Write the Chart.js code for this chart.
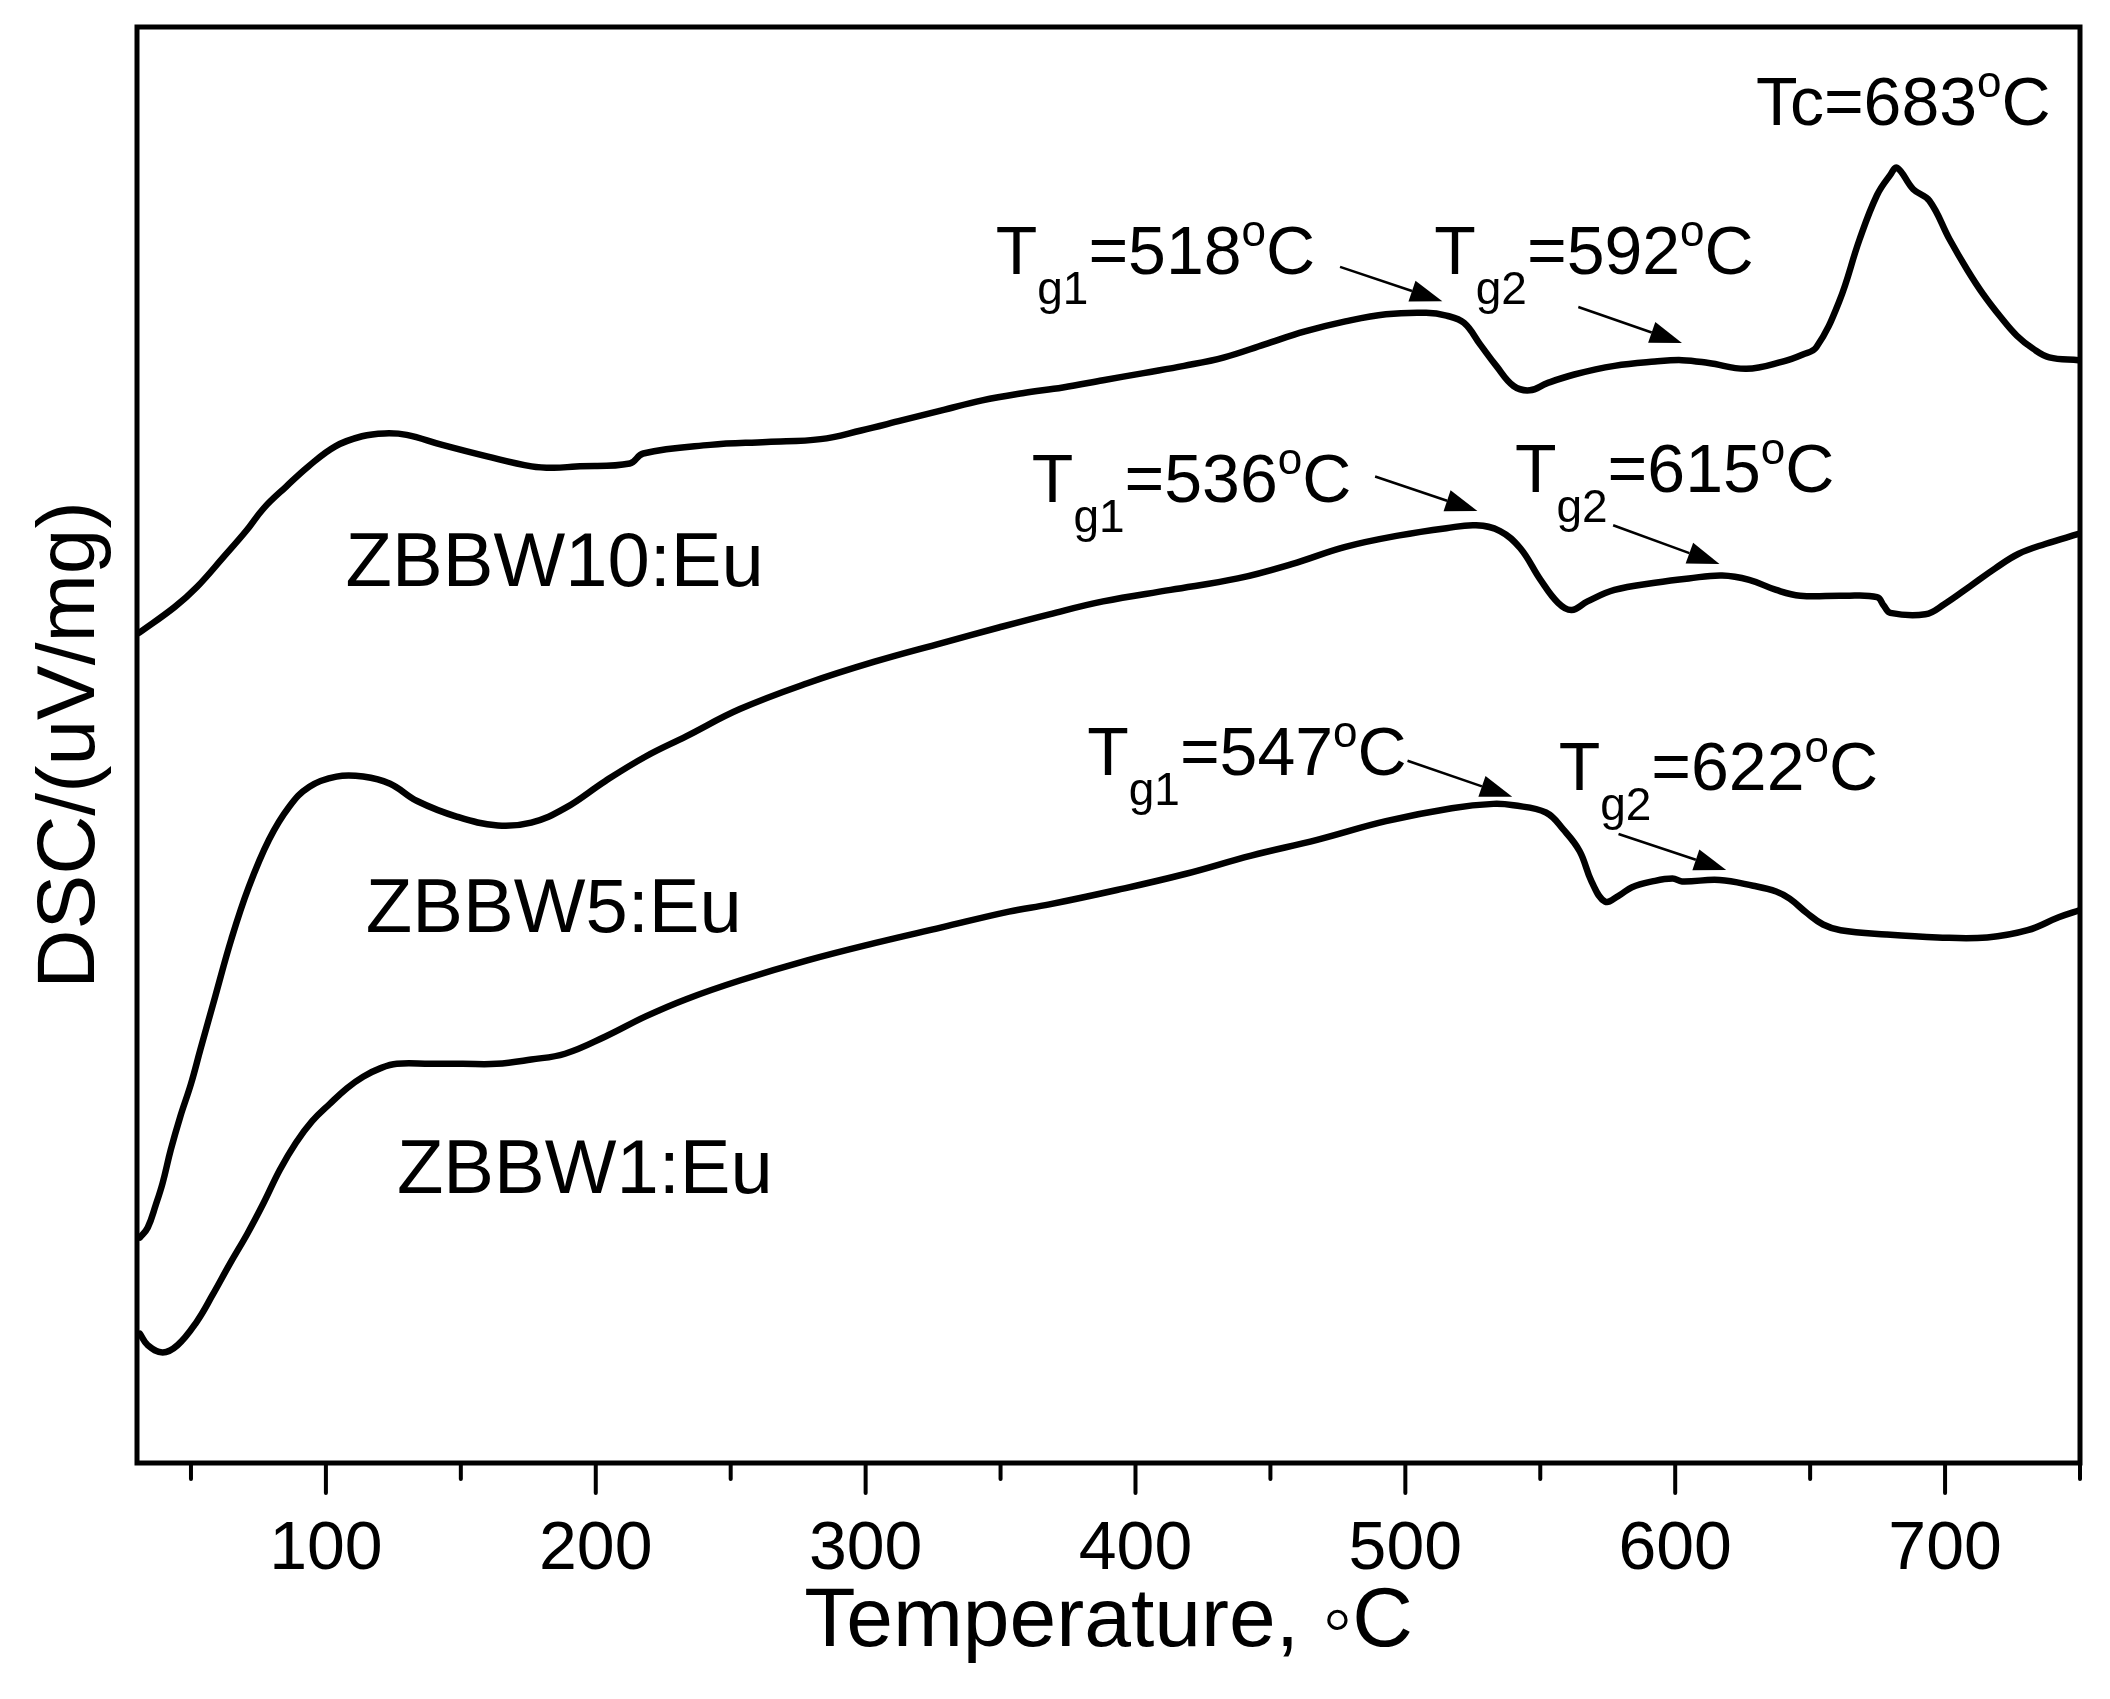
<!DOCTYPE html>
<html>
<head>
<meta charset="utf-8">
<title>DSC curves</title>
<script src="https://cdn.jsdelivr.net/npm/chart.js@4.4.1/dist/chart.umd.min.js"></script>
<style>
  html, body { margin: 0; padding: 0; background: #fff; }
  canvas { display: block; }
</style>
</head>
<body>
<canvas id="dscChart" width="2110" height="1699"></canvas>
<script>
// temperature (°C) and DSC signal (arbitrary units, 0-100 of the plot height)
const tempZBBW10 = [30.7, 43.9, 52.2, 62.1, 70.4, 77.0, 85.3, 93.5, 103.5, 113.4, 121.7, 129.9, 143.1, 159.7, 176.2, 184.5, 192.7, 212.6, 217.6, 242.4, 263.4, 283.3, 298.3, 313.3, 328.2, 343.2, 358.1, 373.1, 388.0, 403.0, 418.0, 432.9, 447.9, 462.8, 477.8, 492.8, 507.7, 515.2, 521.7, 527.7, 533.7, 540.1, 546.1, 552.6, 562.6, 577.5, 592.5, 602.5, 612.4, 626.4, 639.8, 647.3, 652.3, 660.8, 668.3, 674.8, 679.7, 682.2, 688.2, 694.2, 701.7, 708.2, 714.1, 720.6, 726.6, 732.6, 738.6, 749.5];
const dscZBBW10 = [57.8, 59.6, 61.0, 63.1, 64.9, 66.5, 68.0, 69.4, 70.8, 71.5, 71.7, 71.6, 70.9, 70.1, 69.4, 69.3, 69.4, 69.6, 70.3, 70.9, 71.1, 71.3, 71.9, 72.6, 73.3, 74.0, 74.5, 74.9, 75.4, 75.9, 76.4, 77.0, 77.9, 78.8, 79.5, 80.0, 80.1, 79.9, 79.4, 77.9, 76.4, 75.0, 74.7, 75.2, 75.8, 76.4, 76.7, 76.8, 76.6, 76.2, 76.7, 77.2, 77.7, 80.9, 85.2, 88.3, 89.7, 90.2, 88.7, 87.9, 85.2, 83.1, 81.4, 79.8, 78.5, 77.6, 77.0, 76.8];

const tempZBBW5 = [31.1, 34.0, 37.0, 39.5, 42.5, 46.0, 50.0, 53.5, 59.0, 65.0, 71.4, 78.9, 86.4, 93.9, 103.9, 113.8, 123.8, 133.8, 148.7, 163.7, 176.1, 188.6, 203.6, 218.5, 233.5, 253.4, 278.4, 303.3, 328.2, 349.7, 368.1, 388.0, 413.0, 437.9, 457.9, 477.8, 497.8, 515.2, 526.2, 535.1, 542.6, 550.1, 556.6, 561.6, 567.5, 577.5, 592.5, 605.0, 617.4, 627.4, 637.4, 646.3, 662.3, 674.8, 677.3, 679.7, 692.7, 699.7, 709.6, 718.6, 727.1, 737.1, 749.5];
const dscZBBW5 = [15.7, 16.4, 18.0, 19.5, 21.8, 24.1, 26.4, 28.8, 32.5, 36.5, 40.1, 43.4, 45.7, 47.1, 47.8, 47.8, 47.3, 46.1, 45.0, 44.4, 44.6, 45.6, 47.5, 49.2, 50.6, 52.5, 54.3, 55.8, 57.1, 58.2, 59.1, 60.0, 60.8, 61.6, 62.6, 63.8, 64.6, 65.1, 65.3, 64.9, 63.7, 61.5, 59.9, 59.4, 60.0, 60.8, 61.3, 61.6, 61.8, 61.5, 60.8, 60.4, 60.4, 60.3, 59.7, 59.2, 59.1, 59.8, 61.1, 62.3, 63.3, 64.0, 64.7];

const tempZBBW1 = [31.1, 34.0, 39.5, 45.0, 52.0, 58.0, 64.5, 71.0, 76.9, 82.9, 88.9, 94.9, 101.4, 107.8, 113.8, 120.3, 126.3, 138.7, 150.7, 163.2, 176.1, 188.6, 203.6, 218.5, 233.5, 253.4, 278.4, 303.3, 328.2, 353.1, 368.1, 393.1, 418.0, 442.9, 467.3, 492.8, 517.2, 532.6, 540.1, 552.1, 558.6, 564.6, 569.0, 574.0, 579.0, 584.0, 591.5, 599.0, 602.5, 616.4, 628.9, 637.4, 642.4, 648.8, 654.8, 661.3, 678.2, 697.2, 715.6, 730.6, 742.1, 750.0];
const dscZBBW1 = [9.0, 8.2, 7.7, 8.2, 9.8, 11.7, 13.9, 16.0, 18.1, 20.4, 22.3, 23.8, 25.0, 26.1, 26.9, 27.5, 27.8, 27.8, 27.8, 27.8, 28.1, 28.5, 29.7, 31.1, 32.3, 33.6, 35.0, 36.2, 37.3, 38.4, 38.9, 39.9, 41.0, 42.3, 43.4, 44.7, 45.6, 45.9, 45.8, 45.3, 44.1, 42.6, 40.5, 39.1, 39.5, 40.1, 40.5, 40.7, 40.5, 40.6, 40.2, 39.8, 39.3, 38.3, 37.5, 37.1, 36.8, 36.6, 36.6, 37.1, 38.0, 38.5];

const xMajorTicks = [100, 200, 300, 400, 500, 600, 700];
const xMinorTicks = [50, 150, 250, 350, 450, 550, 650, 750];

// sample names: [text, temperature, signal] (left edge, baseline)
const sampleLabels = [
  ["ZBBW10:Eu", 107.3, 61.1],
  ["ZBBW5:Eu", 114.8, 37.0],
  ["ZBBW1:Eu", 126.3, 18.8]
];

// transition labels: main text, subscript, value, at [temperature, signal]
const transitionLabels = [
  ["Tc", "", "=683", 629.9, 93.2],
  ["T", "g1", "=518", 348.2, 82.8],
  ["T", "g2", "=592", 510.7, 82.8],
  ["T", "g1", "=536", 361.6, 66.9],
  ["T", "g2", "=615", 540.6, 67.6],
  ["T", "g1", "=547", 382.1, 47.9],
  ["T", "g2", "=622", 556.8, 46.9]
];

// arrows: from [T, signal] to [T, signal]
const arrows = [
  [475.8, 83.3, 513.7, 80.9],
  [564.1, 80.5, 602.5, 78.0],
  [488.8, 68.7, 526.7, 66.3],
  [577.0, 65.3, 616.4, 62.6],
  [500.8, 48.9, 539.6, 46.4],
  [579.0, 43.8, 618.9, 41.3]
];

const FONT = "'Liberation Sans', Arial, sans-serif";
Chart.defaults.font.family = FONT;
Chart.defaults.color = "#000";

function toPoints(xs, ys) {
  return xs.map((t, i) => ({ x: t, y: ys[i] }));
}

function curve(label, xs, ys) {
  return {
    label: label,
    data: toPoints(xs, ys),
    borderColor: "#000",
    borderWidth: 6.5,
    pointRadius: 0,
    tension: 0.4,
    borderJoinStyle: "round",
    borderCapStyle: "round",
    fill: false
  };
}

// frame, tick marks, arrows and text labels
const overlay = {
  id: "overlay",
  afterDatasetsDraw(chart) {
    const { ctx, chartArea: a, scales: { x, y } } = chart;
    ctx.save();
    ctx.strokeStyle = "#000";
    ctx.fillStyle = "#000";

    ctx.lineWidth = 5;
    ctx.strokeRect(a.left, a.top, a.right - a.left, a.bottom - a.top);

    ctx.lineWidth = 4;
    ctx.lineCap = "round";
    xMajorTicks.forEach(v => {
      const px = x.getPixelForValue(v);
      ctx.beginPath(); ctx.moveTo(px, a.bottom); ctx.lineTo(px, a.bottom + 30); ctx.stroke();
    });
    xMinorTicks.forEach(v => {
      const px = x.getPixelForValue(v);
      ctx.beginPath(); ctx.moveTo(px, a.bottom); ctx.lineTo(px, a.bottom + 16); ctx.stroke();
    });

    // arrows
    arrows.forEach(([t1, s1, t2, s2]) => {
      const x1 = x.getPixelForValue(t1), y1 = y.getPixelForValue(s1);
      const x2 = x.getPixelForValue(t2), y2 = y.getPixelForValue(s2);
      const ang = Math.atan2(y2 - y1, x2 - x1);
      const hl = 32, hw = 11;
      const bx = x2 - hl * Math.cos(ang), by = y2 - hl * Math.sin(ang);
      ctx.lineWidth = 2.5;
      ctx.lineCap = "butt";
      ctx.beginPath(); ctx.moveTo(x1, y1); ctx.lineTo(bx, by); ctx.stroke();
      ctx.beginPath();
      ctx.moveTo(x2, y2);
      ctx.lineTo(bx + hw * Math.sin(ang), by - hw * Math.cos(ang));
      ctx.lineTo(bx - hw * Math.sin(ang), by + hw * Math.cos(ang));
      ctx.closePath();
      ctx.fill();
    });

    ctx.textAlign = "left";
    ctx.textBaseline = "alphabetic";

    sampleLabels.forEach(([text, t, s]) => {
      ctx.font = "76px " + FONT;
      ctx.fillText(text, x.getPixelForValue(t), y.getPixelForValue(s));
    });

    transitionLabels.forEach(([main, sub, val, t, s]) => {
      let px = x.getPixelForValue(t);
      const py = y.getPixelForValue(s);
      ctx.font = "68px " + FONT;
      ctx.fillText(main, px, py);
      px += ctx.measureText(main).width;
      if (sub) {
        ctx.font = "46px " + FONT;
        ctx.fillText(sub, px, py + 30);
        px += ctx.measureText(sub).width;
      }
      ctx.font = "68px " + FONT;
      ctx.fillText(val, px, py);
      px += ctx.measureText(val).width;
      ctx.font = "44px " + FONT;
      ctx.fillText("o", px, py - 28);
      px += ctx.measureText("o").width;
      ctx.font = "68px " + FONT;
      ctx.fillText("C", px, py);
    });

    ctx.restore();
  }
};

new Chart(document.getElementById("dscChart"), {
  type: "line",
  data: {
    datasets: [
      curve("ZBBW10:Eu", tempZBBW10, dscZBBW10),
      curve("ZBBW5:Eu", tempZBBW5, dscZBBW5),
      curve("ZBBW1:Eu", tempZBBW1, dscZBBW1)
    ]
  },
  options: {
    responsive: false,
    devicePixelRatio: 1,
    animation: false,
    layout: { padding: { top: 27, right: 30, left: 0, bottom: 0 } },
    plugins: {
      legend: { display: false },
      tooltip: { enabled: false }
    },
    scales: {
      x: {
        type: "linear",
        min: 30,
        max: 750,
        grid: { display: false },
        border: { display: false },
        afterBuildTicks: scale => {
          scale.ticks = xMajorTicks.map(v => ({ value: v }));
        },
        afterFit: scale => { scale.height = 236; },
        ticks: {
          font: { size: 68 },
          color: "#000",
          padding: 38,
          maxRotation: 0,
          autoSkip: false
        },
        title: {
          display: true,
          text: "Temperature, \u25E6C",
          font: { size: 84 },
          color: "#000",
          padding: { top: 0, bottom: 26 }
        }
      },
      y: {
        min: 0,
        max: 100,
        grid: { display: false },
        border: { display: false },
        ticks: { display: false },
        afterFit: scale => { scale.width = 137; },
        title: {
          display: true,
          text: "DSC/(uV/mg)",
          font: { size: 82 },
          color: "#000",
          padding: { top: 22, bottom: 0 }
        }
      }
    }
  },
  plugins: [overlay]
});
</script>
</body>
</html>
